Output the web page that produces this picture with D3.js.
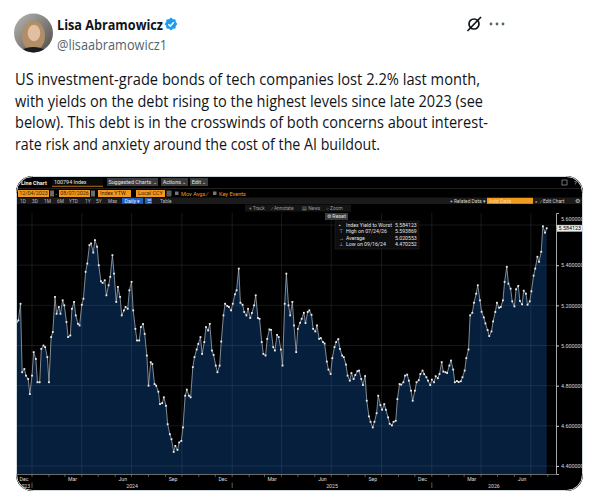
<!DOCTYPE html>
<html lang="en">
<head>
<meta charset="UTF-8">
<title>Tech IG yields</title>
<script src="https://d3js.org/d3.v7.min.js"></script>
<style>
  body { margin: 0; background: #fff; }
  svg { display: block; }
  .bb { font-family: Roboto, "Liberation Sans", sans-serif; }
</style>
</head>
<body>
<svg id="chart" width="603" height="499"></svg>
<script>
// ---- data (index yield to worst; samples on Mon & Thu) ----
const seriesStart = "2023-12-04";
const yields2024 = [5.117,5.125,5.208,4.867,4.883,4.85,4.833,4.758,4.85,4.967,4.933,4.817,4.817,4.983,5.0,4.992,4.942,4.817,5.042,5.067,
  5.242,5.158,5.192,5.158,5.225,5.2,5.117,5.042,5.05,5.183,5.217,5.15,5.108,5.1,5.203,5.233,5.367,5.408,5.5,5.508,
  5.463,5.525,5.492,5.4,5.32,5.312,5.325,5.25,5.3,5.342,5.45,5.358,5.217,5.292,5.242,5.15,5.175,5.192,5.183,5.275,
  5.317,5.175,5.083,5.025,5.025,5.092,5.107,5.058,4.95,4.8,4.917,4.908,4.808,4.8,4.77,4.708,4.713,4.742,4.7,4.608,
  4.558,4.533,4.470,4.5,4.48,4.517,4.525,4.592,4.75,4.78,4.75,4.742,4.892,4.942,4.98,5.008,5.042,4.958,5.017,5.092,
  5.075,5.108,4.975,4.953,4.9,4.867,4.9,5.02,5.15,5.208,5.197,5.192,5.175];
const yields2025 = [5.208,5.255,5.275,5.383,5.213,5.203,5.167,5.15,5.183,5.137,5.162,5.2,5.25,5.137,5.133,5.017,4.958,4.95,5.033,5.08,
  5.078,4.992,4.975,5.053,5.042,4.98,4.9,5.208,5.358,5.2,5.15,5.217,5.1,4.967,5.083,5.113,5.133,5.163,5.112,5.167,
  5.175,5.153,5.083,5.07,5.1,5.033,5.037,5.017,5.01,4.92,4.88,4.858,4.937,4.992,5.017,5.032,4.983,4.95,4.942,4.905,
  4.85,4.825,4.863,4.833,4.853,4.872,4.875,4.833,4.803,4.848,4.725,4.647,4.62,4.592,4.62,4.663,4.75,4.703,4.68,4.708,
  4.68,4.642,4.61,4.602,4.62,4.625,4.733,4.808,4.805,4.817,4.85,4.855,4.825,4.775,4.725,4.775,4.817,4.827,4.858,4.875,
  4.858,4.842,4.825,4.803];
const yields2026 = [4.83,4.817,4.847,4.837,4.858,4.917,4.87,4.867,4.863,4.9,4.925,4.88,4.817,4.823,4.818,4.822,4.842,4.875,4.937,4.98,
  5.15,5.163,5.213,5.258,5.3,5.225,5.168,5.14,5.11,5.077,5.047,5.07,5.12,5.167,5.213,5.188,5.192,5.225,5.317,5.392,
  5.308,5.283,5.22,5.195,5.28,5.297,5.222,5.205,5.273,5.258,5.203,5.22,5.27,5.348,5.383,5.442,5.417,5.467,5.594,5.562,
  5.584];
const yTicks = [4.4, 4.6, 4.8, 5.0, 5.2, 5.4, 5.6];
const lastValue = 5.584123;
const legendRows = [
  ["\u25AA", "Index Yield to Worst", "5.584123"],
  ["\u22A4", "High on 07/24/26", "5.593869"],
  ["\u2192", "Average", "5.020553"],
  ["\u22A5", "Low on 09/16/24", "4.470252"]
];
const tweetLines = [
  "US investment-grade bonds of tech companies lost 2.2% last month,",
  "with yields on the debt rising to the highest levels since late 2023 (see",
  "below). This debt is in the crosswinds of both concerns about interest-",
  "rate risk and anxiety around the cost of the AI buildout."
];
const tweetLineEnds = [480, 483, 488, 380];

const svg = d3.select("#chart");
const parse = d3.timeParse("%Y-%m-%d");
const t0 = parse(seriesStart);
const values = yields2024.concat(yields2025, yields2026);
const data = values.map((v, i) => ({
  date: d3.timeDay.offset(t0, Math.floor(i / 2) * 7 + (i % 2) * 3),
  value: v
}));

// ---------------- tweet header ----------------
const defs = svg.append("defs");
defs.append("clipPath").attr("id", "av").append("circle").attr("cx", 33.5).attr("cy", 33).attr("r", 19.5);
const avg = defs.append("linearGradient").attr("id", "avbg").attr("x1", 0).attr("y1", 0).attr("x2", 1).attr("y2", 1);
avg.append("stop").attr("offset", 0).attr("stop-color", "#bdb8b2");
avg.append("stop").attr("offset", 1).attr("stop-color", "#4a4846");

const av = svg.append("g").attr("clip-path", "url(#av)");
av.append("rect").attr("x", 13).attr("y", 13).attr("width", 41).attr("height", 41).attr("fill", "url(#avbg)");
av.append("ellipse").attr("cx", 33.5).attr("cy", 36).attr("rx", 11.5).attr("ry", 15).attr("fill", "#b08e68");
av.append("ellipse").attr("cx", 34).attr("cy", 33).attr("rx", 6.3).attr("ry", 8.3).attr("fill", "#e2bea2");
av.append("ellipse").attr("cx", 33.5).attr("cy", 58).attr("rx", 17).attr("ry", 11).attr("fill", "#1c1c22");

svg.append("text").attr("x", 57).attr("y", 29.5)
  .attr("font-family", "'Open Sans', 'Noto Sans', sans-serif").attr("font-weight", 700).attr("font-size", 15)
  .attr("fill", "#0f1419").attr("textLength", 106).attr("lengthAdjust", "spacingAndGlyphs")
  .text("Lisa Abramowicz");
// verified badge
const badge = svg.append("g").attr("transform", "translate(171,24)");
badge.append("path")
  .attr("d", d3.range(16).map(i => {
    const a = i / 16 * Math.PI * 2, r = i % 2 ? 5.2 : 6.4;
    return (i ? "L" : "M") + (r * Math.cos(a)).toFixed(2) + "," + (r * Math.sin(a)).toFixed(2);
  }).join("") + "Z")
  .attr("fill", "#1d9bf0");
badge.append("path").attr("d", "M-2.6,0.2L-0.7,2.1L2.8,-1.8")
  .attr("fill", "none").attr("stroke", "#fff").attr("stroke-width", 1.5);

svg.append("text").attr("x", 57).attr("y", 49.5)
  .attr("font-family", "'Open Sans', 'Noto Sans', sans-serif").attr("font-size", 15)
  .attr("fill", "#536471").attr("textLength", 110).attr("lengthAdjust", "spacingAndGlyphs")
  .text("@lisaabramowicz1");

// grok + more icons
const gi = svg.append("g").attr("transform", "translate(474,24)");
gi.append("circle").attr("r", 5).attr("fill", "none").attr("stroke", "#0f1419").attr("stroke-width", 1.7);
gi.append("line").attr("x1", -6.5).attr("y1", 7).attr("x2", 7).attr("y2", -7)
  .attr("stroke", "#0f1419").attr("stroke-width", 1.7);
[491, 497, 503].forEach(x => svg.append("circle").attr("cx", x).attr("cy", 24).attr("r", 1.4).attr("fill", "#536471"));

// tweet body
tweetLines.forEach((line, i) => {
  svg.append("text").attr("x", 15).attr("y", 85 + i * 21.6)
    .attr("font-family", "'Open Sans', 'Noto Sans', sans-serif").attr("font-size", 16.6)
    .attr("fill", "#0f1419")
    .attr("textLength", tweetLineEnds[i] - 15).attr("lengthAdjust", "spacingAndGlyphs")
    .text(line);
});

// ---------------- Bloomberg chart image ----------------
const frame = { x: 16, y: 176, w: 567, h: 315 };
defs.append("clipPath").attr("id", "frame").append("rect")
  .attr("x", frame.x).attr("y", frame.y).attr("width", frame.w).attr("height", frame.h).attr("rx", 16);

const g = svg.append("g").attr("clip-path", "url(#frame)").attr("class", "bb");
g.append("rect").attr("x", frame.x).attr("y", frame.y).attr("width", frame.w).attr("height", frame.h).attr("fill", "#000");

const plot = { left: 16.7, right: 556, top: 213, bottom: 474 };
const x = d3.scaleTime()
  .domain([t0, new Date(2026, 7, 16)])
  .range([plot.left, plot.right]);
const y = d3.scaleLinear().domain([4.36, 5.66]).range([plot.bottom, plot.top]);

// area + line
g.append("path").datum(data)
  .attr("d", d3.area().x(d => x(d.date)).y0(plot.bottom).y1(d => y(d.value)))
  .attr("fill", "#061f3d");

// grid lines
g.append("g").selectAll("line").data(yTicks).join("line")
  .attr("x1", plot.left).attr("x2", plot.right)
  .attr("y1", d => y(d)).attr("y2", d => y(d))
  .attr("stroke", "#8090a8").attr("stroke-opacity", 0.28).attr("stroke-width", 0.6);
const quarterStarts = d3.timeMonth.every(3).range(new Date(2024, 0, 1), new Date(2026, 7, 16));
g.append("g").selectAll("line").data(quarterStarts).join("line")
  .attr("x1", d => x(d)).attr("x2", d => x(d))
  .attr("y1", plot.top).attr("y2", plot.bottom)
  .attr("stroke", "#8090a8").attr("stroke-opacity", 0.28).attr("stroke-width", 0.6);

g.append("path").datum(data)
  .attr("d", d3.line().x(d => x(d.date)).y(d => y(d.value)))
  .attr("fill", "none").attr("stroke", "#b8bec6").attr("stroke-width", 0.7);
g.append("g").selectAll("rect").data(data).join("rect")
  .attr("x", d => x(d.date) - 0.9).attr("y", d => y(d.value) - 0.9)
  .attr("width", 1.8).attr("height", 1.8).attr("fill", "#f0f0f0");

// y axis on right
const yAxis = g.append("g").attr("transform", `translate(${plot.right},0)`)
  .call(d3.axisRight(y).tickValues(yTicks).tickSize(3).tickPadding(2).tickFormat(d3.format(".6f")));
yAxis.select(".domain").attr("stroke", "#cfcfcf").attr("stroke-width", 0.8);
yAxis.selectAll(".tick line").attr("stroke", "#cfcfcf");
yAxis.selectAll(".tick text").attr("fill", "#d8d8d8").attr("font-size", 5.4).attr("font-family", "Roboto, sans-serif");
// top label peeks out above the last-value box
yAxis.selectAll(".tick text").filter(d => d === 5.6).attr("dy", "-0.75em");

// last value box
g.append("rect").attr("x", plot.right + 1).attr("y", y(lastValue) - 3.2).attr("width", 25.5).attr("height", 6.6)
  .attr("fill", "#ececec").attr("stroke", "#999").attr("stroke-width", 0.4);
g.append("text").attr("x", plot.right + 2.5).attr("y", y(lastValue) + 2)
  .attr("font-size", 5.4).attr("fill", "#000").text(d3.format(".6f")(lastValue));

// x axis band
g.append("line").attr("x1", plot.left).attr("x2", plot.right).attr("y1", plot.bottom + 0.5).attr("y2", plot.bottom + 0.5)
  .attr("stroke", "#9a9a9a").attr("stroke-width", 0.7);
const monthStarts = d3.timeMonth.range(new Date(2024, 0, 1), new Date(2026, 7, 16));
g.append("g").selectAll("line").data(monthStarts).join("line")
  .attr("x1", d => x(d)).attr("x2", d => x(d))
  .attr("y1", plot.bottom + 0.5).attr("y2", plot.bottom + 2.8)
  .attr("stroke", "#9a9a9a").attr("stroke-width", 0.6);
const monthMids = d3.timeMonth.range(new Date(2023, 11, 1), new Date(2026, 7, 1))
  .filter(d => d.getMonth() % 3 === 2)
  .map(d => new Date(d.getFullYear(), d.getMonth(), 15));
g.append("g").selectAll("text").data(monthMids).join("text")
  .attr("x", d => Math.max(x(d), 24)).attr("y", plot.bottom + 7)
  .attr("text-anchor", "middle").attr("font-size", 5.2).attr("fill", "#dcdcdc")
  .text(d3.timeFormat("%b"));
const yearStarts = [new Date(2024, 0, 1), new Date(2025, 0, 1), new Date(2026, 0, 1)];
g.append("g").selectAll("line").data(yearStarts).join("line")
  .attr("x1", d => x(d)).attr("x2", d => x(d))
  .attr("y1", plot.bottom + 8.5).attr("y2", plot.bottom + 14)
  .attr("stroke", "#9a9a9a").attr("stroke-width", 0.6);
const yearSpans = [[t0].concat(yearStarts), yearStarts.concat([x.domain()[1]])];
g.append("g").selectAll("text").data(yearSpans[0]).join("text")
  .attr("x", (d, i) => (x(d) + x(yearSpans[1][i])) / 2).attr("y", plot.bottom + 13.5)
  .attr("text-anchor", "middle").attr("font-size", 5.2).attr("fill", "#dcdcdc")
  .text(d => d3.timeFormat("%Y")(d3.timeDay.offset(d, 1)));

// ---- toolbar ----
function box(x0, y0, w, h, fill, label, color, anchor) {
  g.append("rect").attr("x", x0).attr("y", y0).attr("width", w).attr("height", h).attr("fill", fill);
  if (label) {
    g.append("text").attr("x", anchor === "start" ? x0 + 2 : x0 + w / 2).attr("y", y0 + h / 2 + 1.9)
      .attr("text-anchor", anchor || "middle").attr("font-size", 5.4).attr("fill", color).text(label);
  }
}
function label(x0, y0, txt, color, size, weight) {
  g.append("text").attr("x", x0).attr("y", y0).attr("font-size", size || 5.4)
    .attr("font-weight", weight || 400).attr("fill", color).text(txt);
}
// row 1
label(21, 184.5, "Line Chart", "#f0f0f0", 5.6, 700);
box(52, 178, 51, 8, "#0a0a0a", "100794 Index", "#e8e8e8", "start");
g.append("line").attr("x1", 52).attr("x2", 103).attr("y1", 186.3).attr("y2", 186.3).attr("stroke", "#e08a1e").attr("stroke-width", 0.8);
box(107, 178, 51, 8, "#3b3b3b", "Suggested Charts \u2304", "#e4e4e4");
box(161, 178, 27, 8, "#3b3b3b", "Actions \u2304", "#e4e4e4");
box(190, 178, 18, 8, "#3b3b3b", "Edit \u2304", "#e4e4e4");
g.append("rect").attr("x", 562).attr("y", 180).attr("width", 5).attr("height", 5).attr("fill", "none").attr("stroke", "#bbb").attr("stroke-width", 0.6);
label(574, 185, "?", "#bbb", 6);
g.append("line").attr("x1", 16).attr("x2", 583).attr("y1", 188.5).attr("y2", 188.5).attr("stroke", "#2a2a2a").attr("stroke-width", 0.8);
// row 2
const orange = "#f29a1f";
box(18, 190, 31, 7, orange, "12/04/2023", "#3a1e00");
box(50, 190.5, 4, 6, "#6a6a6a");
label(55.5, 195.5, "-", "#ccc");
box(59, 190, 31, 7, orange, "08/07/2026", "#3a1e00");
box(91, 190.5, 4, 6, "#6a6a6a");
box(98, 190, 33, 7, orange, "Index YTW", "#3a1e00", "start");
box(136, 190, 29, 7, orange, "Local CCY", "#3a1e00", "start");
box(166.5, 190.5, 5, 6, "#5a5a5a");
g.append("rect").attr("x", 175).attr("y", 191.5).attr("width", 3.5).attr("height", 3.5).attr("fill", "#777");
label(181, 195.5, "Mov Avgs \u2215", "#f29a1f", 5.6);
g.append("rect").attr("x", 213).attr("y", 191.5).attr("width", 3.5).attr("height", 3.5).attr("fill", "#777");
label(219, 195.5, "Key Events", "#f29a1f", 5.6);
// row 3
g.append("rect").attr("x", 16).attr("y", 197.5).attr("width", 567).attr("height", 6.5).attr("fill", "#1b1b1b");
[["1D", 20], ["3D", 32], ["1M", 44], ["6M", 57], ["YTD", 69], ["1Y", 85], ["5Y", 96], ["Max", 108]]
  .forEach(([t, px]) => label(px, 202.6, t, "#bdbdbd", 4.8));
box(122, 197.8, 21, 6, "#1f5fbf", "Daily \u25BE", "#e8eefc");
box(145, 197.8, 7, 6, "#1f5fbf", "\u2630", "#cfe0ff");
label(160, 202.6, "Table", "#bdbdbd", 4.8);
label(450, 202.6, "+ Related Data \u25BE", "#d4d4d4", 4.9);
box(487, 197.8, 46, 6, orange, "Add Data", "#ffd9a0", "start");
label(535, 202.6, "\u00AB", "#ccc", 5);
label(541, 202.6, "\u2215 Edit Chart", "#d4d4d4", 4.9);
label(575, 203, "\u2699", "#ccc", 6);
// row 4 (annotation tools)
g.append("rect").attr("x", 245).attr("y", 204.5).attr("width", 106).attr("height", 7).attr("fill", "#141414");
label(249, 209.8, "+ Track", "#9a9a9a", 4.8);
label(272, 209.8, "\u2215 Annotate", "#9a9a9a", 4.8);
label(302, 209.8, "\u25A4 News", "#9a9a9a", 4.8);
label(326, 209.8, "\u25CB Zoom", "#9a9a9a", 4.8);
box(325, 213, 23, 7, "#3a3a3a", "\u2699 Reset", "#e0e0e0");

// legend
const lg = g.append("g").attr("transform", "translate(335,221)");
lg.append("rect").attr("width", 84).attr("height", 28).attr("fill", "#101010").attr("fill-opacity", 0.9)
  .attr("stroke", "#2a2a2a").attr("stroke-width", 0.5);
lg.selectAll("g").data(legendRows).join("g")
  .attr("transform", (d, i) => `translate(0,${6 + i * 6.3})`)
  .each(function (d) {
    const r = d3.select(this);
    r.append("text").attr("x", 4).attr("font-size", 5).attr("fill", "#cfcfcf").text(d[0]);
    r.append("text").attr("x", 11).attr("font-size", 5.2).attr("fill", "#e4e4e4").text(d[1]);
    r.append("text").attr("x", 60).attr("font-size", 5.2).attr("fill", "#e4e4e4").text(d[2]);
  });

// frame border
svg.append("rect").attr("x", frame.x + 0.5).attr("y", frame.y + 0.5).attr("width", frame.w - 1).attr("height", frame.h - 1)
  .attr("rx", 16).attr("fill", "none").attr("stroke", "#cfd9de");
</script>
</body>
</html>
